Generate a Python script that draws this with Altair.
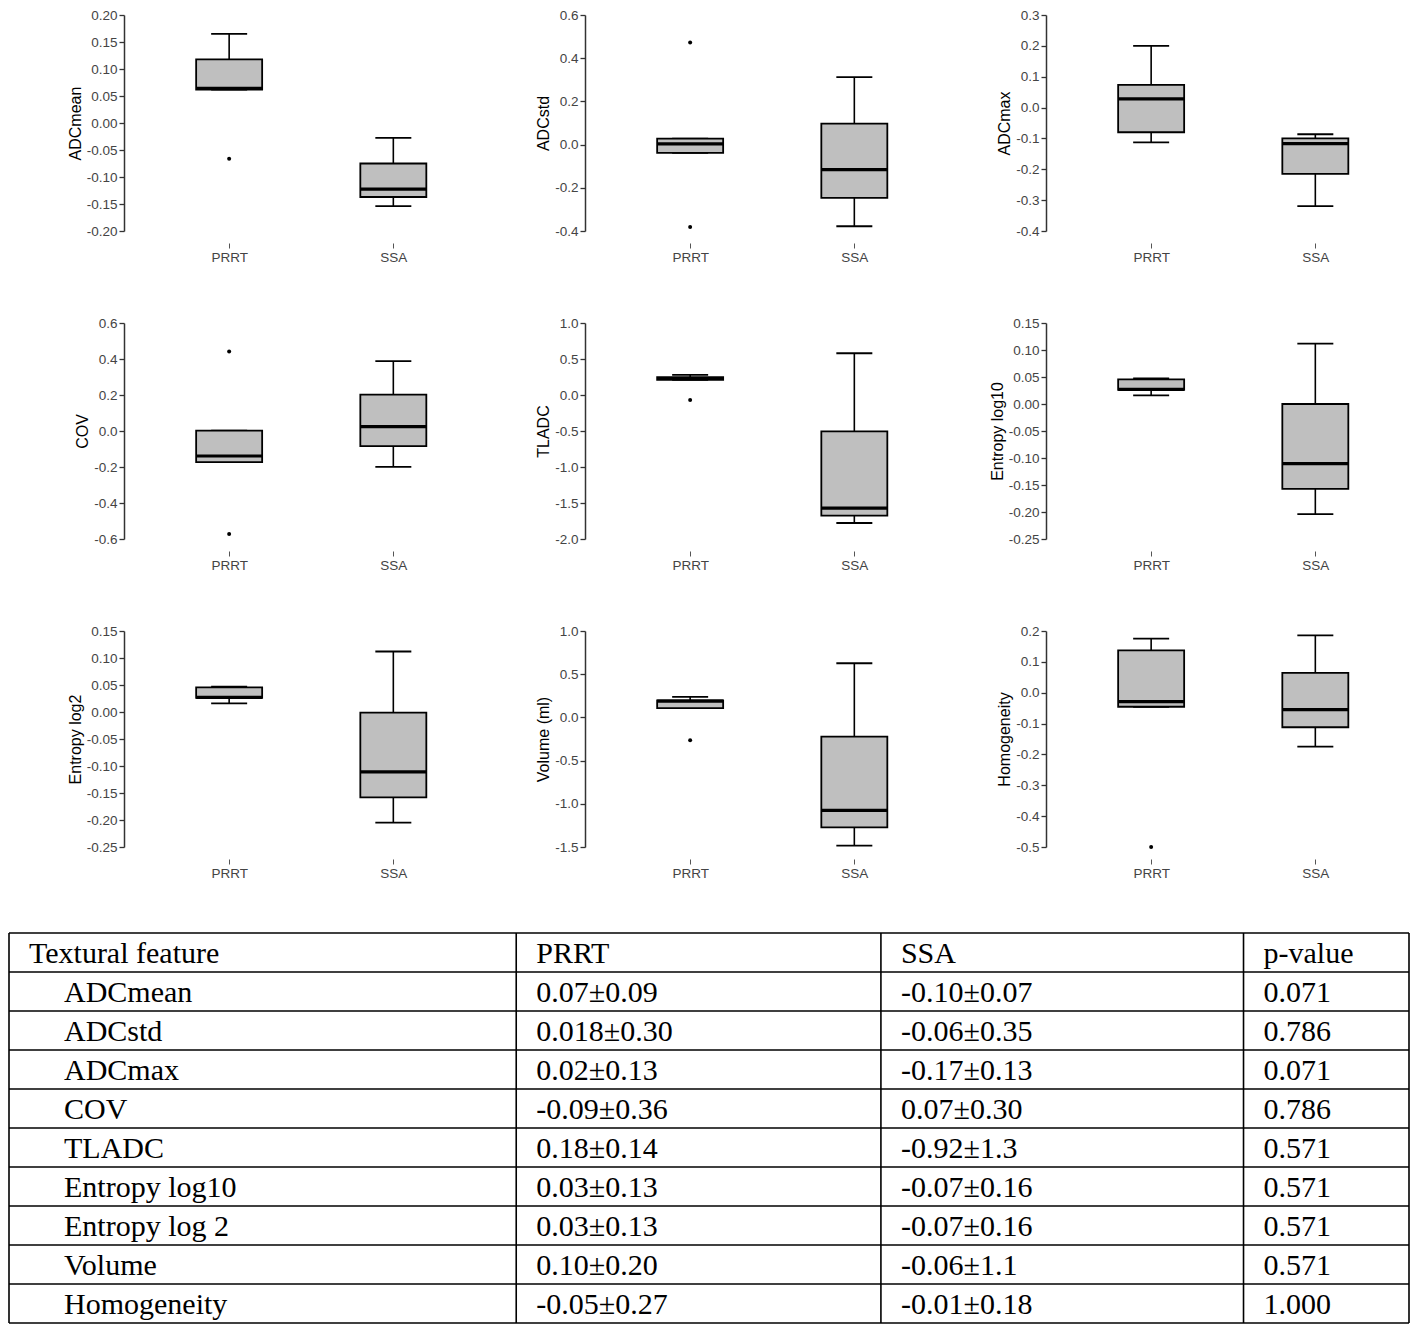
import altair as alt
import pandas as pd

# ---------------- data ----------------
FEATURES = ["ADCmean", "ADCstd", "ADCmax", "COV", "TLADC",
            "Entropy log10", "Entropy log2", "Volume (ml)", "Homogeneity"]
GROUPS = ["PRRT", "SSA"]

Y_TICKS = [
    [-0.20, -0.15, -0.10, -0.05, 0.00, 0.05, 0.10, 0.15, 0.20],
    [-0.4, -0.2, 0.0, 0.2, 0.4, 0.6],
    [-0.4, -0.3, -0.2, -0.1, 0.0, 0.1, 0.2, 0.3],
    [-0.6, -0.4, -0.2, 0.0, 0.2, 0.4, 0.6],
    [-2.0, -1.5, -1.0, -0.5, 0.0, 0.5, 1.0],
    [-0.25, -0.20, -0.15, -0.10, -0.05, 0.00, 0.05, 0.10, 0.15],
    [-0.25, -0.20, -0.15, -0.10, -0.05, 0.00, 0.05, 0.10, 0.15],
    [-1.5, -1.0, -0.5, 0.0, 0.5, 1.0],
    [-0.5, -0.4, -0.3, -0.2, -0.1, 0.0, 0.1, 0.2],
]
Y_DECIMALS = [2, 1, 1, 1, 1, 2, 2, 1, 1]

PRRT_LOW = [0.062, -0.038, -0.113, -0.173, 0.211, 0.016, 0.016, 0.108, -0.0455]
PRRT_Q1 = [0.062, -0.038, -0.080, -0.173, 0.211, 0.026, 0.026, 0.108, -0.0455]
PRRT_MED = [0.064, 0.003, 0.028, -0.139, 0.229, 0.027, 0.027, 0.188, -0.029]
PRRT_Q3 = [0.118, 0.028, 0.0735, 0.002, 0.248, 0.0457, 0.0457, 0.196, 0.1375]
PRRT_HIGH = [0.165, 0.028, 0.200, 0.002, 0.280, 0.0475, 0.047, 0.2385, 0.175]
PRRT_OUTLIERS = [[-0.066], [0.473, -0.382], [], [0.442, -0.572], [-0.071],
                 [], [], [-0.265], [-0.5]]

SSA_LOW = [-0.154, -0.378, -0.3195, -0.199, -1.778, -0.204, -0.205, -1.485, -0.175]
SSA_Q1 = [-0.137, -0.247, -0.215, -0.0836, -1.676, -0.157, -0.158, -1.273, -0.112]
SSA_MED = [-0.1225, -0.116, -0.117, 0.024, -1.570, -0.1105, -0.111, -1.077, -0.055]
SSA_Q3 = [-0.075, 0.097, -0.100, 0.2025, -0.504, 0.0, -0.001, -0.223, 0.064]
SSA_HIGH = [-0.0277, 0.312, -0.0865, 0.388, 0.580, 0.1117, 0.112, 0.627, 0.186]
SSA_OUTLIERS = [[], [], [], [], [], [], [], [], []]

TABLE_HEADER = ["Textural feature", "PRRT", "SSA", "p-value"]
TABLE_FEATURES = ["ADCmean", "ADCstd", "ADCmax", "COV", "TLADC",
                  "Entropy log10", "Entropy log 2", "Volume", "Homogeneity"]
PRRT_MEAN_SD = ["0.07±0.09", "0.018±0.30", "0.02±0.13", "-0.09±0.36", "0.18±0.14",
                "0.03±0.13", "0.03±0.13", "0.10±0.20", "-0.05±0.27"]
SSA_MEAN_SD = ["-0.10±0.07", "-0.06±0.35", "-0.17±0.13", "0.07±0.30", "-0.92±1.3",
               "-0.07±0.16", "-0.07±0.16", "-0.06±1.1", "-0.01±0.18"]
P_VALUES = ["0.071", "0.786", "0.071", "0.786", "0.571", "0.571", "0.571", "0.571", "1.000"]

# ---------------- layout / style constants ----------------
PANEL_W, PANEL_H = 340, 216
BOX_W, CAP_W = 66, 36
SANS = "Liberation Sans"
SERIF = "Liberation Serif"
COL_EDGES = [0.0, 0.3623, 0.6228, 0.8818, 1.0]   # table column borders (fraction)
TABLE_ROW_H = 39
MINUS = "\u2212"


def panel(i):
    box = pd.DataFrame({
        "g": [1, 2],
        "low": [PRRT_LOW[i], SSA_LOW[i]],
        "q1": [PRRT_Q1[i], SSA_Q1[i]],
        "med": [PRRT_MED[i], SSA_MED[i]],
        "q3": [PRRT_Q3[i], SSA_Q3[i]],
        "high": [PRRT_HIGH[i], SSA_HIGH[i]],
    })
    out = pd.DataFrame({
        "g": [1] * len(PRRT_OUTLIERS[i]) + [2] * len(SSA_OUTLIERS[i]),
        "v": PRRT_OUTLIERS[i] + SSA_OUTLIERS[i],
    })
    ticks = Y_TICKS[i]
    fmt = f".{Y_DECIMALS[i]}f"
    yscale = alt.Scale(domain=[min(ticks), max(ticks)], nice=False, zero=False)
    xscale = alt.Scale(domain=[0.39, 2.4], nice=False, zero=False)
    xaxis = alt.Axis(values=[1, 2],
                     labelExpr=f"datum.value == 1 ? '{GROUPS[0]}' : '{GROUPS[1]}'",
                     domain=False, grid=False, title=None, offset=12,
                     tickSize=5, tickColor="#555", tickWidth=1,
                     labelFont=SANS, labelFontSize=13.5, labelColor="#444",
                     labelPadding=2, labelFlush=False)
    yaxis = alt.Axis(values=ticks,
                     labelExpr=f"replace(format(datum.value, '{fmt}'), '{MINUS}', '-')",
                     title=FEATURES[i], grid=False,
                     domainColor="#333", domainWidth=1.5,
                     tickColor="#333", tickWidth=1.3, tickSize=5,
                     labelFont=SANS, labelFontSize=13.5, labelColor="#444",
                     labelPadding=2, labelOverlap=False,
                     titleFont=SANS, titleFontSize=16, titleFontWeight="normal",
                     titleColor="black", titlePadding=3)

    def X():
        return alt.X("g:Q", scale=xscale, axis=xaxis)

    def Y(f):
        return alt.Y(f"{f}:Q", scale=yscale, axis=yaxis)

    base = alt.Chart(box)
    whisk = base.mark_rule(color="black", strokeWidth=1.6).encode(
        x=X(), y=Y("low"), y2=alt.Y2("high:Q"))
    cap_lo = base.mark_tick(orient="horizontal", size=CAP_W, thickness=1.8,
                            color="black", opacity=1).encode(x=X(), y=Y("low"))
    cap_hi = base.mark_tick(orient="horizontal", size=CAP_W, thickness=1.8,
                            color="black", opacity=1).encode(x=X(), y=Y("high"))
    boxm = base.mark_bar(size=BOX_W, fill="#bfbfbf", stroke="black",
                         strokeWidth=1.8, opacity=1).encode(
        x=X(), y=Y("q1"), y2=alt.Y2("q3:Q"))
    med = base.mark_tick(orient="horizontal", size=BOX_W, thickness=3.2,
                         color="black", opacity=1).encode(x=X(), y=Y("med"))
    pts = alt.Chart(out).mark_circle(size=16, color="black", opacity=1).encode(
        x=X(), y=Y("v"))
    return alt.layer(whisk, cap_lo, cap_hi, boxm, med, pts).properties(
        width=PANEL_W, height=PANEL_H)


# ---------------- table ----------------
n_rows = len(TABLE_FEATURES) + 1
cells = []
for c, h in enumerate(TABLE_HEADER):
    cells.append({"t": h, "c": COL_EDGES[c], "r": 0.5, "indent": 0})
columns = [TABLE_FEATURES, PRRT_MEAN_SD, SSA_MEAN_SD, P_VALUES]
for r in range(len(TABLE_FEATURES)):
    for c, col in enumerate(columns):
        cells.append({"t": col[r], "c": COL_EDGES[c], "r": r + 1.5,
                      "indent": 1 if c == 0 else 0})
cells_df = pd.DataFrame(cells)
hl = pd.DataFrame({"b": list(range(n_rows + 1))})
vl = pd.DataFrame({"e": COL_EDGES})

tx = alt.Scale(domain=[0, 1], range=[-115, 1285], nice=False, zero=False)
ty = alt.Scale(domain=[0, n_rows], range=[0, n_rows * TABLE_ROW_H], nice=False, zero=False)

hrule = alt.Chart(hl).mark_rule(color="black", strokeWidth=1.6).encode(
    y=alt.Y("b:Q", scale=ty, axis=None),
    x=alt.X(datum=0, scale=tx, axis=None), x2=alt.X2(datum=1))
vrule = alt.Chart(vl).mark_rule(color="black", strokeWidth=1.6).encode(
    x=alt.X("e:Q", scale=tx, axis=None),
    y=alt.Y(datum=0, scale=ty, axis=None), y2=alt.Y2(datum=n_rows))
txt_plain = alt.Chart(cells_df).transform_filter("datum.indent == 0").mark_text(
    align="left", baseline="middle", dx=20, dy=1, font=SERIF, fontSize=30, color="black").encode(
    x=alt.X("c:Q", scale=tx, axis=None), y=alt.Y("r:Q", scale=ty, axis=None), text="t:N")
txt_indent = alt.Chart(cells_df).transform_filter("datum.indent == 1").mark_text(
    align="left", baseline="middle", dx=55, dy=1, font=SERIF, fontSize=30, color="black").encode(
    x=alt.X("c:Q", scale=tx, axis=None), y=alt.Y("r:Q", scale=ty, axis=None), text="t:N")
table = alt.layer(hrule, vrule, txt_plain, txt_indent).properties(
    width=1285, height=n_rows * TABLE_ROW_H)

# ---------------- compose ----------------
rows = [alt.hconcat(*[panel(3 * r + c) for c in range(3)], spacing=121, bounds="flush")
        for r in range(3)]
chart = alt.vconcat(*rows, table, spacing=52).properties(
    padding=0, background="white").configure_view(stroke=None)

chart.save("out.html", embed_options={"renderer": "svg", "actions": False})
